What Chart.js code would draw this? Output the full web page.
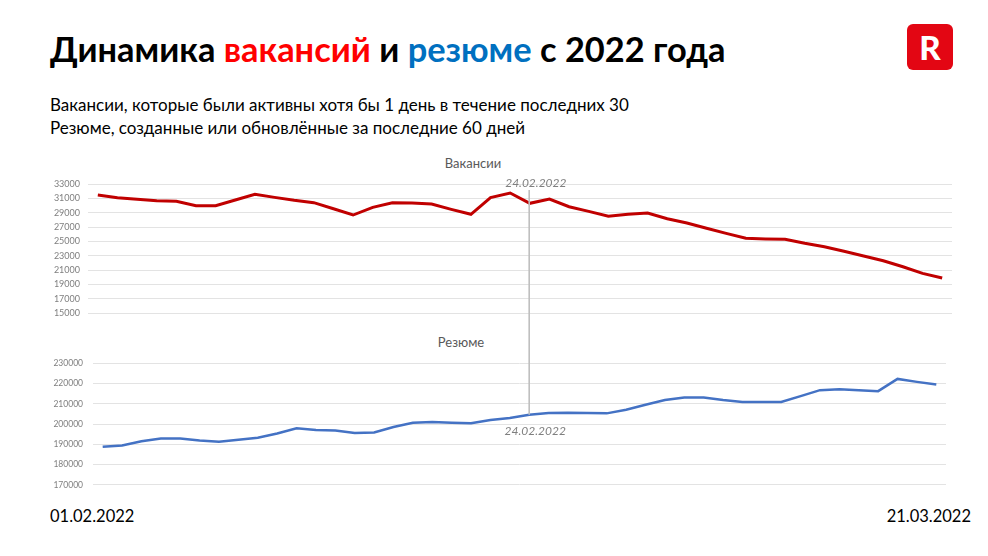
<!DOCTYPE html>
<html lang="ru">
<head>
<meta charset="utf-8">
<script src="https://cdn.jsdelivr.net/npm/chart.js@4"></script>
<style>
  body { margin: 0; background: #fff; font-family: Lato, sans-serif; }
  #page { position: relative; width: 988px; height: 556px; overflow: hidden; }
  .abs { position: absolute; white-space: nowrap; }
  #title { left: 50px; top: 28px; font-size: 34.4px; font-weight: 700; color: #000; }
  .sub { left: 50px; font-size: 17px; color: #000; }
  #logo { left: 907px; top: 24px; width: 46px; height: 46px; background: #e30613; border-radius: 6px;
          color: #fff; font: 900 33px Lato, sans-serif; text-align: center; line-height: 46px; }
  .ptitle { font-size: 13px; color: #595959; transform: translateX(-50%); }
  .dlabel { font-size: 16.5px; color: #000; top: 506px; }
  canvas { position: absolute; left: 0; }
</style>
</head>
<body>
<div id="page">
  <div id="title" class="abs">Динамика <span style="color:#ff0000">вакансий</span> и <span style="color:#0070c0">резюме</span> с 2022 года</div>
  <div id="logo" class="abs">R</div>
  <div class="abs sub" style="top:94px">Вакансии, которые были активны хотя бы 1 день в течение последних 30</div>
  <div class="abs sub" style="top:117px">Резюме, созданные или обновлённые за последние 60 дней</div>
  <div class="abs ptitle" style="left:473px;top:155px">Вакансии</div>
  <div class="abs ptitle" style="left:461px;top:334px">Резюме</div>
  <canvas id="vacChart" style="top:150px" width="988" height="180"></canvas>
  <canvas id="resChart" style="top:150px" width="988" height="350"></canvas>
  <div id="dFirst" class="abs dlabel" style="left:50px"></div>
  <div id="dLast" class="abs dlabel" style="right:17px"></div>
</div>
<script>
// даты наблюдений
const dates = [
  '01.02.2022','02.02.2022','03.02.2022','04.02.2022','05.02.2022','06.02.2022','07.02.2022','08.02.2022',
  '09.02.2022','10.02.2022','11.02.2022','12.02.2022','13.02.2022','14.02.2022','15.02.2022','16.02.2022',
  '17.02.2022','18.02.2022','19.02.2022','20.02.2022','21.02.2022','22.02.2022','24.02.2022',
  '25.02.2022','26.02.2022','27.02.2022','28.02.2022','01.03.2022','02.03.2022','03.03.2022','04.03.2022',
  '05.03.2022','09.03.2022','10.03.2022','11.03.2022','12.03.2022','14.03.2022','15.03.2022','16.03.2022',
  '17.03.2022','18.03.2022','19.03.2022','20.03.2022','21.03.2022'
];
// вакансии
const vacancies = [
  31470, 31100, 30870, 30680, 30590, 29980, 29980, 30770, 31560, 31140, 30730,
  30400, 29560, 28680, 29750, 30400, 30350, 30210, 29470, 28780, 31100, 31750,
  30310, 30910, 29840, 29190, 28500, 28780, 28960, 28170, 27570, 26830, 26130,
  25440, 25340, 25300, 24740, 24270, 23630, 22970, 22320, 21480, 20560, 19910
];
// резюме
const resumes = [
  188800, 189440, 191560, 192870, 192870, 191900, 191260, 192230, 193220, 195330, 197940,
  197140, 196800, 195670, 195820, 198600, 200700, 201060, 200700, 200380, 202040, 203030,
  204640, 205480, 205650, 205480, 205300, 207100, 209550, 211840, 213130, 213130, 211840,
  210870, 210870, 210870, 213800, 216760, 217250, 216760, 216270, 222300, 220830, 219510
];
const vacTicks = {min: 15000, max: 33000, step: 2000};
const resTicks = {min: 170000, max: 230000, step: 10000};
const markerDate = '24.02.2022';
const markerIdx = dates.indexOf(markerDate);

document.getElementById('dFirst').textContent = dates[0];
document.getElementById('dLast').textContent = dates[dates.length - 1];

// подпись 24.02 сверху; вертикальная линия рисуется нижним графиком целиком
function markerPlugin(where) {
  return {
    id: 'marker_' + where,
    afterDatasetsDraw(chart) {
      const ctx = chart.ctx;
      const pt = chart.getDatasetMeta(0).data[markerIdx];
      const x = pt.x;
      ctx.save();
      if (where === 'bottom') {
        ctx.strokeStyle = '#bfbfbf';
        ctx.lineWidth = 1.6;
        ctx.beginPath();
        ctx.moveTo(x, 40);
        ctx.lineTo(x, pt.y);
        ctx.stroke();
      }
      ctx.fillStyle = '#7f7f7f';
      ctx.font = 'italic 12px Lato, sans-serif';
      ctx.textAlign = 'center';
      ctx.fillText(markerDate, x + 6, where === 'top' ? 37 : 285);
      ctx.restore();
    }
  };
}

function makeChart(id, data, color, width, t, pad, yWidth, tickPad, tickSize, where) {
  return new Chart(document.getElementById(id), {
    type: 'line',
    data: {
      labels: dates,
      datasets: [{
        data: data,
        borderColor: color,
        borderWidth: width,
        pointRadius: 0,
        tension: 0,
        fill: false
      }]
    },
    options: {
      responsive: false,
      animation: false,
      layout: {padding: pad},
      plugins: {legend: {display: false}, tooltip: {enabled: false}},
      scales: {
        x: {display: false, offset: true},
        y: {
          min: t.min, max: t.max,
          afterFit: s => { s.width = yWidth; },
          border: {display: false},
          grid: {color: '#e3e3e3', lineWidth: 1, drawTicks: false},
          ticks: {stepSize: t.step, padding: tickPad, color: '#7f7f7f',
                  font: {family: 'Lato', size: tickSize},
                  callback: v => String(v)}
        }
      }
    },
    plugins: [markerPlugin(where)]
  });
}

makeChart('vacChart', vacancies, '#c00000', 3, vacTicks,
  {top: 34, bottom: 16.7, left: 0, right: 36}, 88, 8, 9, 'top');
makeChart('resChart', resumes, '#4472c4', 2.5, resTicks,
  {top: 213.3, bottom: 14.3, left: 0, right: 42}, 93, 10, 8.5, 'bottom');
</script>
</body>
</html>
